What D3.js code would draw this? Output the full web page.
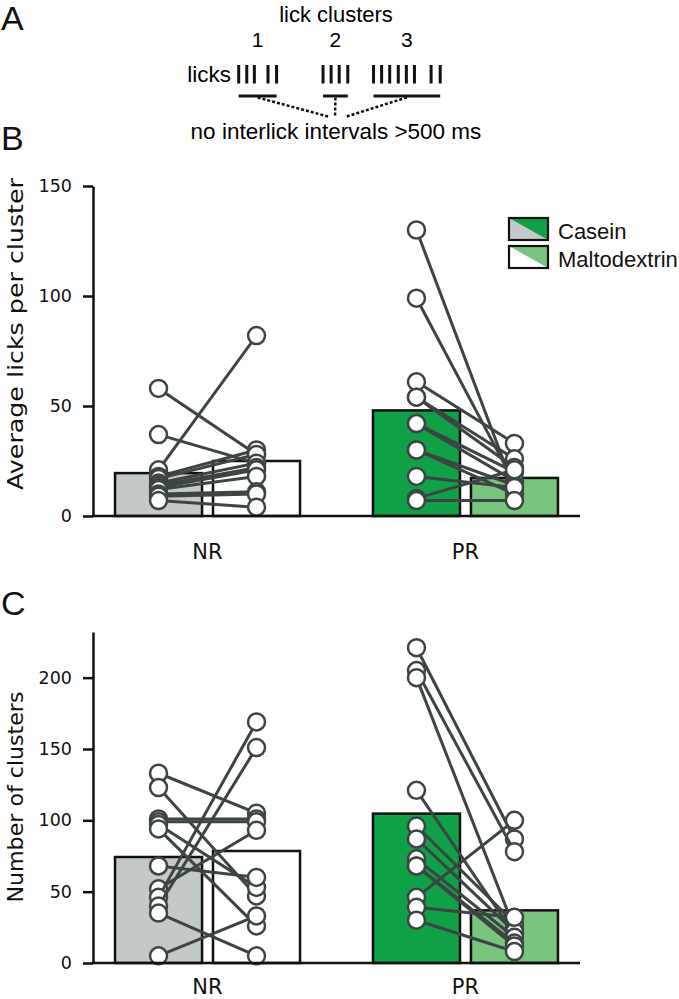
<!DOCTYPE html>
<html>
<head>
<meta charset="utf-8">
<script src="https://cdn.jsdelivr.net/npm/d3@7"></script>
<style>
  html, body { margin: 0; padding: 0; background: #fff; }
  svg { display: block; }
</style>
</head>
<body>
<script>
// ---------------- DATA ----------------
const groups = ["NR", "PR"];
const diets = ["Casein", "Maltodextrin"];

// Panel A: schematic lick times (s)
const lickTimes = [0, 0.16, 0.31, 0.58, 0.75, 1.67, 1.83, 1.99, 2.16, 2.67, 2.83, 2.99, 3.16, 3.32, 3.48, 3.81, 3.99];
const clusterGap = 0.5; // s

// Panel B: average licks per cluster (paired animals)
const licksNRCasein = [58, 37, 21, 18, 17, 15, 14, 13, 12, 10, 9, 7];
const licksNRMalto  = [28, 24, 82, 30, 28, 24, 22, 21, 18, 11, 10, 4];
const licksPRCasein = [130, 99, 61, 54, 54, 42, 42, 30, 30, 18, 8, 7];
const licksPRMalto  = [12, 15, 33, 26, 22, 20, 16, 14, 10, 13, 21, 7];
const licksMeanCasein = [19.5, 48.0];
const licksMeanMalto  = [25.0, 17.3];
const licksTicks = [0, 50, 100, 150];

// Panel C: number of clusters (paired animals)
const clustersNRCasein = [133, 123, 101, 99, 97, 94, 68, 52, 46, 40, 35, 5];
const clustersNRMalto  = [105, 47, 101, 99, 53, 26, 60, 93, 169, 151, 5, 33];
const clustersPRCasein = [221, 205, 200, 121, 96, 87, 73, 68, 68, 46, 39, 30];
const clustersPRMalto  = [87, 78, 24, 20, 28, 22, 18, 14, 12, 100, 32, 8];
const clustersMeanCasein = [74.3, 104.7];
const clustersMeanMalto  = [78.5, 36.9];
const clustersTicks = [0, 50, 100, 150, 200];

// ---------------- STYLE ----------------
const W = 679, H = 999;
const barColors = {
  NR: { Casein: "#c3c9c8", Maltodextrin: "#ffffff" },
  PR: { Casein: "#10a048", Maltodextrin: "#79c47f" }
};
const pointColor = "#3c4444";
const helv = "'Liberation Sans', Arial, Helvetica, sans-serif";
const dejavu = "'DejaVu Sans', sans-serif";

const svg = d3.select("body").append("svg").attr("width", W).attr("height", H);

// Panel letters
[["A", 30], ["B", 150], ["C", 615]].forEach(([t, y]) => {
  svg.append("text").attr("x", 1).attr("y", y).text(t)
    .attr("font-family", helv).attr("font-size", 34).attr("fill", "#111");
});

// ---------------- PANEL A ----------------
(function () {
  const g = svg.append("g");
  const xt = d3.scaleLinear().domain([0, 4.0]).range([238.7, 440.7]);
  const clusters = [];
  lickTimes.forEach((t, i) => {
    if (i === 0 || t - lickTimes[i - 1] > clusterGap) clusters.push([t]);
    else clusters[clusters.length - 1].push(t);
  });
  g.append("text").attr("x", 336).attr("y", 21.5).attr("text-anchor", "middle")
    .attr("font-family", helv).attr("font-size", 22).text("lick clusters");
  clusters.forEach((c, i) => {
    const cx = (xt(c[0]) + xt(c[c.length - 1])) / 2;
    g.append("text").attr("x", cx).attr("y", 47).attr("text-anchor", "middle")
      .attr("font-family", helv).attr("font-size", 21).text(i + 1);
  });
  g.append("text").attr("x", 231).attr("y", 82).attr("text-anchor", "end")
    .attr("font-family", helv).attr("font-size", 22.5).text("licks");
  g.selectAll("line.lick").data(lickTimes).join("line").attr("class", "lick")
    .attr("x1", d => xt(d)).attr("x2", d => xt(d))
    .attr("y1", 65).attr("y2", 83.5)
    .attr("stroke", "#111").attr("stroke-width", 3);
  g.selectAll("line.under").data(clusters).join("line").attr("class", "under")
    .attr("x1", d => xt(d[0])).attr("x2", d => xt(d[d.length - 1]))
    .attr("y1", 96).attr("y2", 96)
    .attr("stroke", "#111").attr("stroke-width", 3);
  const ends = [330, 335, 345];
  clusters.forEach((c, i) => {
    const cx = (xt(c[0]) + xt(c[c.length - 1])) / 2;
    g.append("line").attr("x1", cx).attr("y1", 97.5).attr("x2", ends[i]).attr("y2", 117)
      .attr("stroke", "#111").attr("stroke-width", 2.5).attr("stroke-dasharray", "3,2");
  });
  g.append("text").attr("x", 336).attr("y", 139).attr("text-anchor", "middle")
    .attr("font-family", helv).attr("font-size", 22.5).text("no interlick intervals >500 ms");
})();

// ---------------- BAR PANELS ----------------
const x0 = d3.scalePoint().domain(groups).range([93, 580]).padding(0.444);
const x1 = d3.scaleBand().domain(diets).range([-92.5, 92.5]).paddingInner(0.112);

function drawPanel(cfg) {
  const g = svg.append("g");
  const y = d3.scaleLinear().domain(cfg.domain).range([cfg.bottom, cfg.top]);

  groups.forEach((grp, gi) => {
    diets.forEach((d, di) => {
      const v = di === 0 ? cfg.meanCasein[gi] : cfg.meanMalto[gi];
      g.append("rect")
        .attr("x", x0(grp) + x1(d)).attr("width", x1.bandwidth())
        .attr("y", y(v)).attr("height", y(0) - y(v))
        .attr("fill", barColors[grp][d]).attr("stroke", "#111").attr("stroke-width", 2.5);
    });
  });

  groups.forEach((grp, gi) => {
    const cas = cfg.pairs[gi][0], mal = cfg.pairs[gi][1];
    const xc = x0(grp) + x1("Casein") + x1.bandwidth() / 2;
    const xm = x0(grp) + x1("Maltodextrin") + x1.bandwidth() / 2;
    cas.forEach((c, i) => {
      const m = mal[i];
      const pg = g.append("g");
      pg.append("line").attr("x1", xc).attr("y1", y(c)).attr("x2", xm).attr("y2", y(m))
        .attr("stroke", pointColor).attr("stroke-width", 3);
      [[xc, c], [xm, m]].forEach(([px, v]) => {
        pg.append("circle").attr("cx", px).attr("cy", y(v)).attr("r", 8.5)
          .attr("fill", "#fff").attr("stroke", pointColor).attr("stroke-width", 2.5);
      });
    });
  });

  const ax = g.append("g").attr("transform", "translate(93,0)")
    .call(d3.axisLeft(y).tickValues(cfg.ticks).tickSize(10).tickSizeOuter(0).tickPadding(11));
  ax.select(".domain").attr("stroke", "#111").attr("stroke-width", 2.5);
  ax.selectAll(".tick line").attr("stroke", "#111").attr("stroke-width", 2.5);
  ax.selectAll(".tick text").attr("font-family", dejavu).attr("font-size", 17.5).attr("fill", "#111");

  g.append("line").attr("x1", 91.75).attr("x2", 580).attr("y1", y(0)).attr("y2", y(0))
    .attr("stroke", "#111").attr("stroke-width", 2.5);

  groups.forEach(grp => {
    g.append("text").attr("x", x0(grp)).attr("y", cfg.labelY).attr("text-anchor", "middle")
      .attr("font-family", dejavu).attr("font-size", 21).attr("fill", "#111").text(grp);
  });

  g.append("text")
    .attr("transform", `translate(23,${cfg.yLabelCenter}) rotate(-90)`)
    .attr("text-anchor", "middle")
    .attr("font-family", dejavu).attr("font-size", 22).attr("fill", "#111")
    .attr("textLength", cfg.yLabelLen).attr("lengthAdjust", "spacingAndGlyphs")
    .text(cfg.yLabel);
}

drawPanel({
  domain: [0, 150], top: 186, bottom: 516, ticks: licksTicks,
  meanCasein: licksMeanCasein, meanMalto: licksMeanMalto,
  pairs: [[licksNRCasein, licksNRMalto], [licksPRCasein, licksPRMalto]],
  labelY: 559, yLabel: "Average licks per cluster", yLabelCenter: 334, yLabelLen: 312
});
drawPanel({
  domain: [0, 232], top: 632, bottom: 963, ticks: clustersTicks,
  meanCasein: clustersMeanCasein, meanMalto: clustersMeanMalto,
  pairs: [[clustersNRCasein, clustersNRMalto], [clustersPRCasein, clustersPRMalto]],
  labelY: 994, yLabel: "Number of clusters", yLabelCenter: 797, yLabelLen: 211
});

// ---------------- LEGEND ----------------
(function () {
  const lg = svg.append("g");
  const bx = 509, bw = 39, bh = 22;
  const items = [
    { name: "Casein", y: 218, low: barColors.NR.Casein, high: barColors.PR.Casein },
    { name: "Maltodextrin", y: 246, low: barColors.NR.Maltodextrin, high: barColors.PR.Maltodextrin }
  ];
  items.forEach(it => {
    lg.append("path").attr("d", `M${bx},${it.y} L${bx},${it.y + bh} L${bx + bw},${it.y + bh} Z`).attr("fill", it.low);
    lg.append("path").attr("d", `M${bx},${it.y} L${bx + bw},${it.y} L${bx + bw},${it.y + bh} Z`).attr("fill", it.high);
    lg.append("rect").attr("x", bx).attr("y", it.y).attr("width", bw).attr("height", bh)
      .attr("fill", "none").attr("stroke", "#111").attr("stroke-width", 2.2);
    lg.append("text").attr("x", 558).attr("y", it.y + 20.5)
      .attr("font-family", helv).attr("font-size", 22).attr("fill", "#111").text(it.name);
  });
})();
</script>
</body>
</html>
